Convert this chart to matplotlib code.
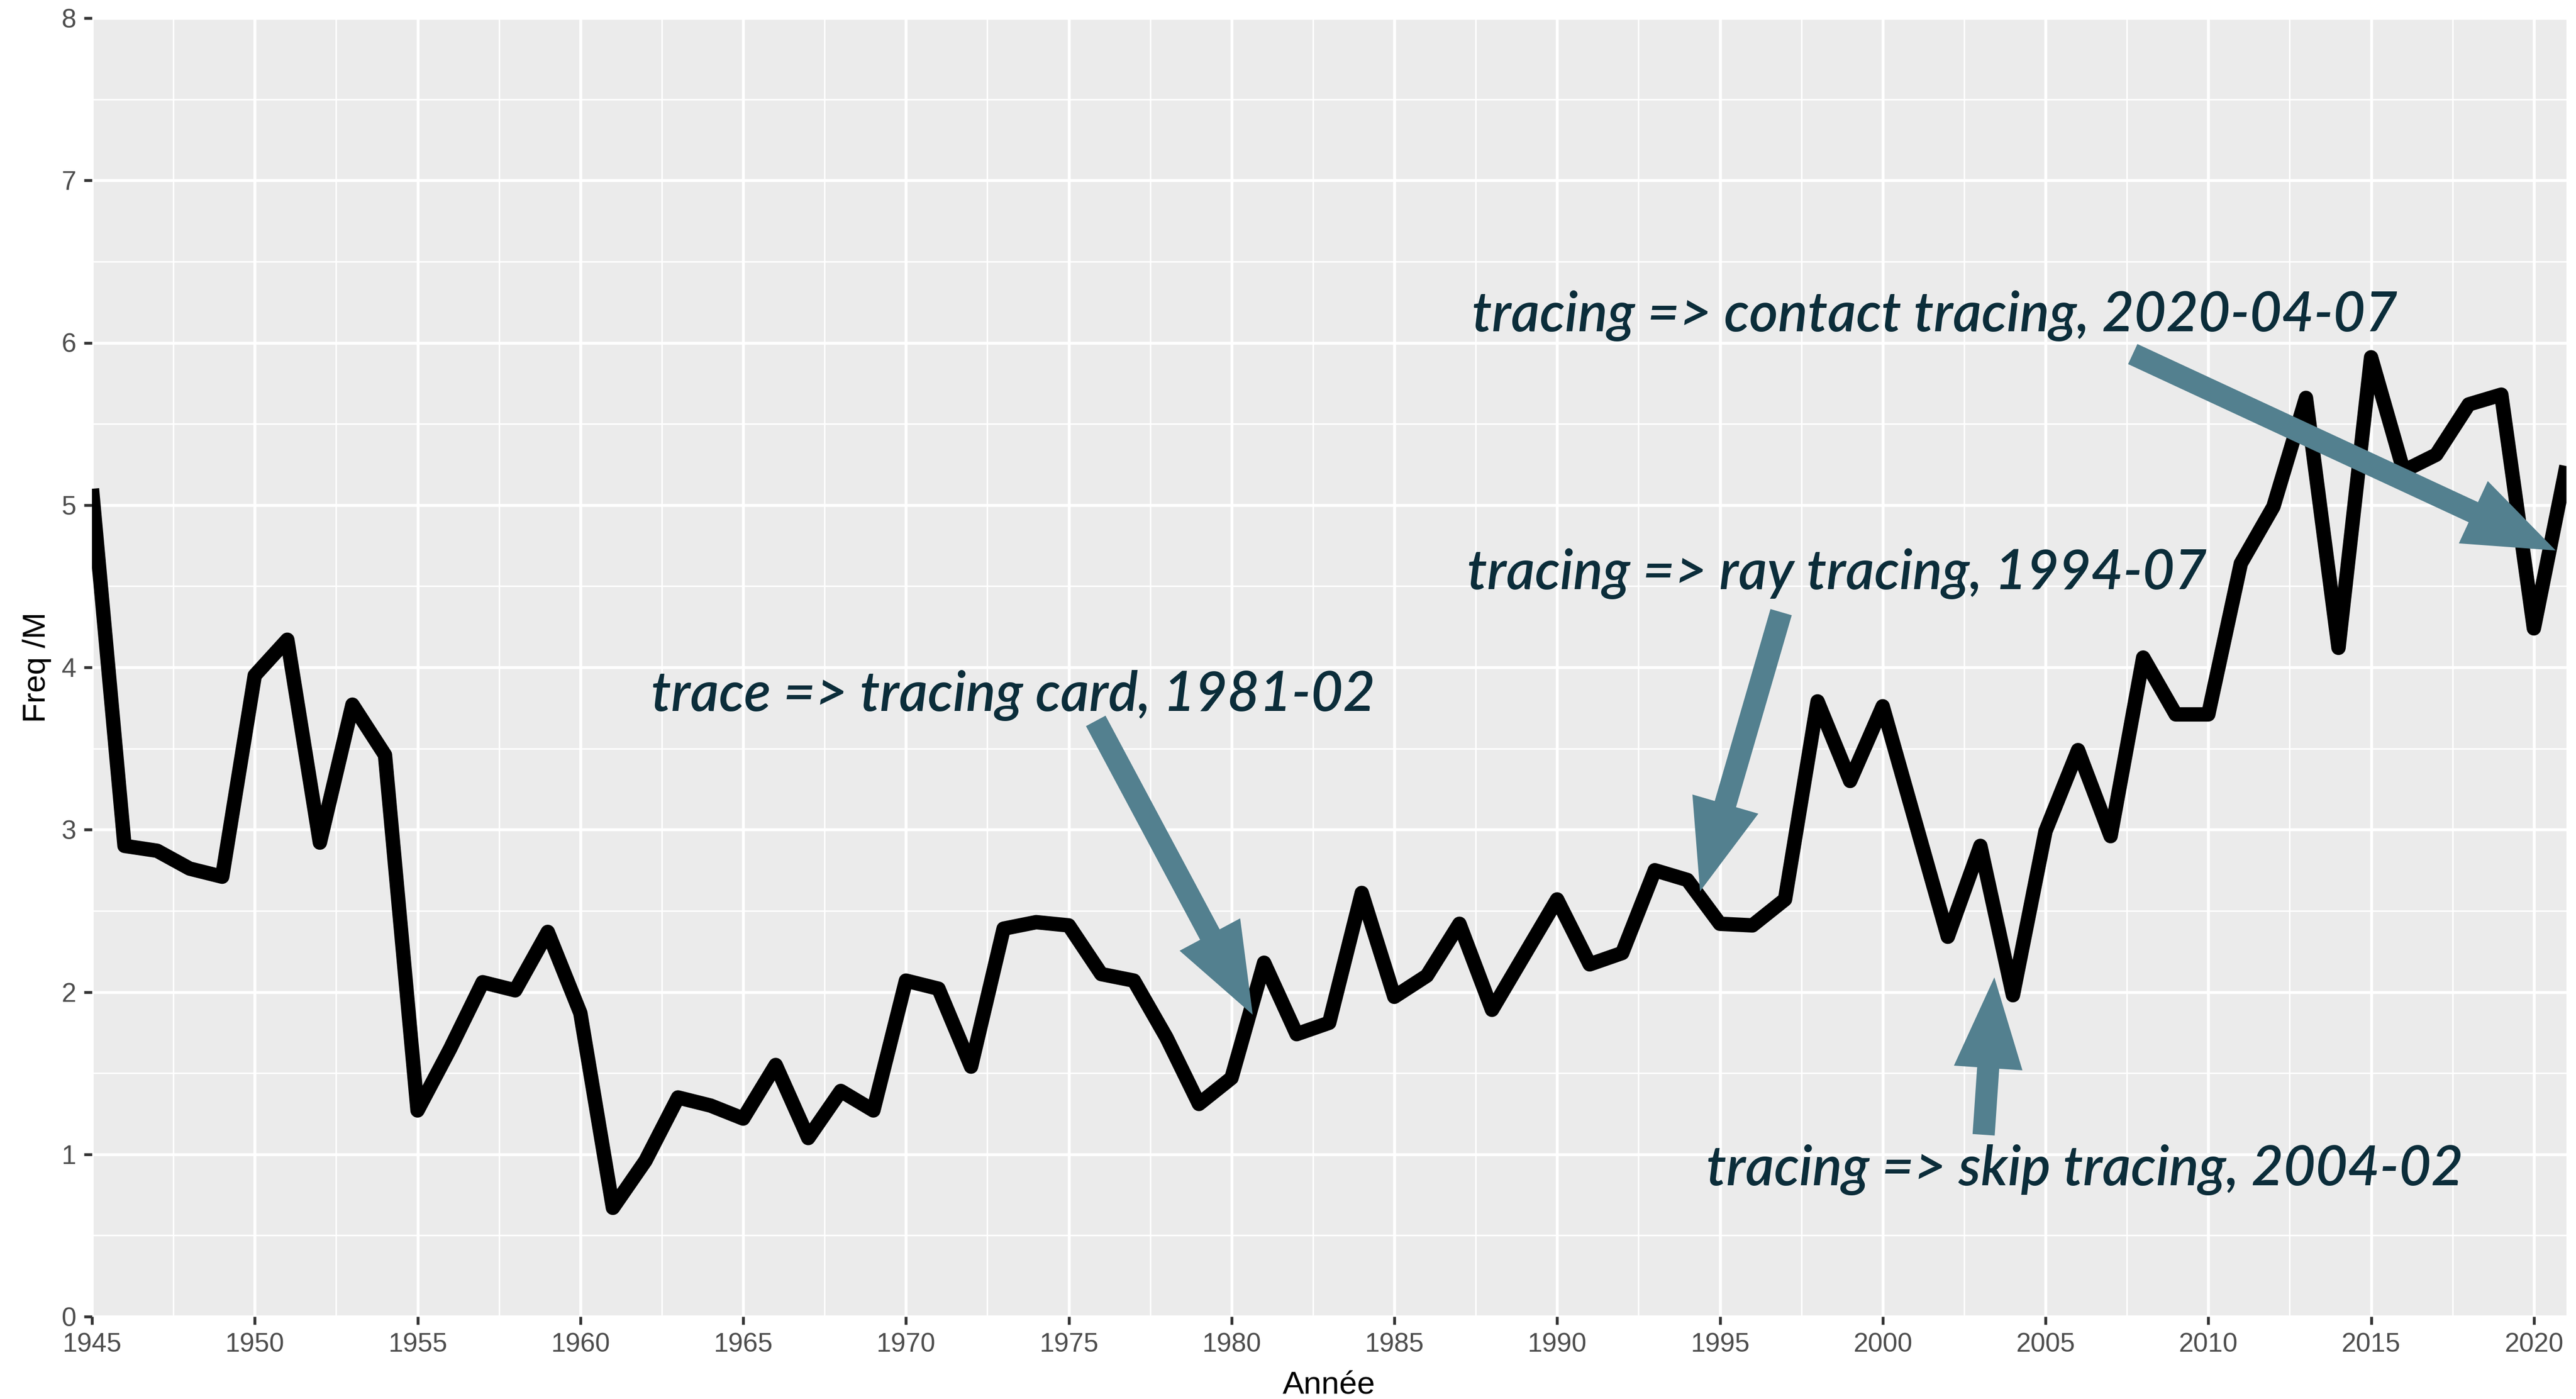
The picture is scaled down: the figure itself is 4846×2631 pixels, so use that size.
import matplotlib
matplotlib.use("Agg")
import matplotlib.pyplot as plt
from matplotlib.ticker import MultipleLocator

# yearly frequency (per million words)
years = list(range(1945, 2022))
freq = [
    5.10, 2.90, 2.87, 2.76, 2.71, 3.95, 4.17, 2.92, 3.77, 3.46,   # 1945-1954
    1.27, 1.65, 2.06, 2.01, 2.37, 1.87, 0.67, 0.96, 1.35, 1.30,   # 1955-1964
    1.22, 1.55, 1.10, 1.39, 1.27, 2.07, 2.02, 1.54, 2.39, 2.43,   # 1965-1974
    2.41, 2.11, 2.07, 1.72, 1.31, 1.47, 2.18, 1.74, 1.81, 2.61,   # 1975-1984
    1.97, 2.10, 2.42, 1.89, 2.23, 2.57, 2.17, 2.24, 2.75, 2.69,   # 1985-1994
    2.42, 2.41, 2.57, 3.79, 3.30, 3.76, 3.05, 2.34, 2.90, 1.98,   # 1995-2004
    2.99, 3.49, 2.96, 4.06, 3.71, 3.71, 4.64, 4.99, 5.66, 4.12,   # 2005-2014
    5.91, 5.21, 5.31, 5.62, 5.68, 4.24, 5.24,                     # 2015-2021
]

# annotations: label, label anchor (x, baseline y), arrow tail, arrow tip
labels = [
    "trace => tracing card, 1981-02",
    "tracing => ray tracing, 1994-07",
    "tracing => skip tracing, 2004-02",
    "tracing => contact tracing, 2020-04-07",
]
label_xy = [(1973.3, 3.73), (1998.6, 4.48), (2006.2, 0.81), (2001.6, 6.07)]
arrow_tail = [(1975.83, 3.67), (1996.88, 4.34), (2003.1, 1.12), (2007.68, 5.93)]
arrow_tip = [(1980.65, 1.86), (1994.39, 2.62), (2003.43, 2.09), (2020.67, 4.72)]

W, H, DPI = 4846, 2631, 300
fig = plt.figure(figsize=(W / DPI, H / DPI), dpi=DPI)
ax = fig.add_axes([173 / W, 155 / H, 4655 / W, 2442 / H])

ax.set_facecolor("#ebebeb")
for s in ax.spines.values():
    s.set_visible(False)

ax.set_xlim(1945, 2021)
ax.set_ylim(0, 8)
ax.xaxis.set_major_locator(MultipleLocator(5))
ax.xaxis.set_minor_locator(MultipleLocator(2.5))
ax.yaxis.set_major_locator(MultipleLocator(1))
ax.yaxis.set_minor_locator(MultipleLocator(0.5))

ax.grid(True, which="major", color="white", linewidth=1.3, zorder=0)
ax.grid(True, which="minor", color="white", linewidth=0.65, zorder=0)
ax.set_axisbelow(True)

ax.tick_params(which="major", length=3.6, width=1.3, color="#333333",
               labelsize=12, labelcolor="#4d4d4d", pad=3.5)
ax.tick_params(which="minor", length=0)
for lab in ax.get_xticklabels() + ax.get_yticklabels():
    lab.set_family("Liberation Sans")

ax.plot(years, freq, color="black", linewidth=6.5, solid_joinstyle="round",
        solid_capstyle="butt", zorder=3)

for txt, (tx, ty), tail, tip in zip(labels, label_xy, arrow_tail, arrow_tip):
    ax.annotate("", xy=tip, xytext=tail,
                arrowprops=dict(arrowstyle="simple,head_length=41,head_width=31,tail_width=10",
                                mutation_scale=1, color="#53808f", shrinkA=0, shrinkB=0,
                                linewidth=0),
                zorder=4)
    ax.text(tx, ty, txt, ha="center", va="baseline", fontsize=25,
            family="Lato", style="italic", weight="semibold",
            color="#0b2d3a", zorder=5)

ax.set_xlabel("Année", family="Liberation Sans", fontsize=14.5, color="black")
ax.set_ylabel("Freq /M", family="Liberation Sans", fontsize=14.5, color="black")
ax.xaxis.set_label_coords(0.5, -0.0414)
ax.yaxis.set_label_coords(-0.0163, 0.5)

fig.savefig("out.png", dpi=DPI, facecolor="white")
